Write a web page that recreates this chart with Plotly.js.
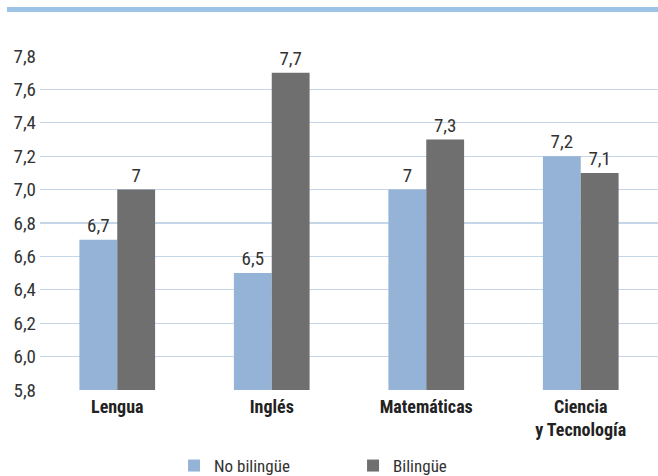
<!DOCTYPE html>
<html><head><meta charset="utf-8">
<script src="https://cdn.plot.ly/plotly-3.0.1.min.js"></script>
<style>html,body{margin:0;padding:0;background:#fff}#chart{width:658px;height:476px}</style>
</head><body><div id="chart"></div>
<script>
var categories = ["Lengua", "Inglés", "Matemáticas", "Ciencia<br>y Tecnología"];
var noBilingue = [6.7, 6.5, 7.0, 7.2];
var bilingue = [7.0, 7.7, 7.3, 7.1];
var noBilingueText = ["6,7", "6,5", "7", "7,2"];
var bilingueText = ["7", "7,7", "7,3", "7,1"];
var yTicks = [5.8, 6.0, 6.2, 6.4, 6.6, 6.8, 7.0, 7.2, 7.4, 7.6, 7.8];
var yTickText = ["5,8", "6,0", "6,2", "6,4", "6,6", "6,8", "7,0", "7,2", "7,4", "7,6", "7,8"];

var FONT = "'Roboto Condensed', 'Liberation Sans Narrow', 'Liberation Sans', Arial, sans-serif";

var traces = [
  {type: "bar", name: "No bilingüe", x: categories, y: noBilingue, text: noBilingueText,
   textposition: "outside", cliponaxis: false, marker: {color: "#95b3d7"},
   textfont: {family: FONT, size: 19, color: "#333"}, hoverinfo: "skip"},
  {type: "bar", name: "Bilingüe", x: categories, y: bilingue, text: bilingueText,
   textposition: "outside", cliponaxis: false, marker: {color: "#6f6f6f"},
   textfont: {family: FONT, size: 19, color: "#333"}, hoverinfo: "skip"}
];

var layout = {
  width: 658, height: 476,
  margin: {l: 40, r: 0, t: 56, b: 86},
  paper_bgcolor: "#fff", plot_bgcolor: "#fff",
  font: {family: FONT, size: 17, color: "#333"},
  barmode: "group", bargap: 0.51, bargroupgap: 0,
  showlegend: true,
  legend: {orientation: "h", xref: "container", yref: "container",
    x: 0.2645, y: 0.021, xanchor: "left", yanchor: "middle",
    entrywidth: 134, entrywidthmode: "pixels",
    font: {family: FONT, size: 17, color: "#333"}},
  xaxis: {type: "category", showgrid: false, showline: false, zeroline: false, ticks: "",
    ticklabelstandoff: 4, automargin: false,
    tickfont: {family: FONT, size: 18, color: "#222", weight: "bold"}},
  yaxis: {range: [5.8, 7.8], tickvals: yTicks, ticktext: yTickText, showgrid: true,
    gridcolor: "#c6d6e9", gridwidth: 1.3, zeroline: false, showline: false,
    ticks: "", ticklen: 0, automargin: false, ticklabelstandoff: 3,
    tickfont: {family: FONT, size: 19, color: "#333"}},
  shapes: [
    {type: "rect", xref: "paper", yref: "paper", x0: -0.0534, x1: 1.0, y0: 1.1317, y1: 1.1467,
     fillcolor: "#9dc3e6", line: {width: 0}, layer: "above"}
  ]
};

Plotly.newPlot("chart", traces, layout, {displayModeBar: false, staticPlot: true});
</script></body></html>
